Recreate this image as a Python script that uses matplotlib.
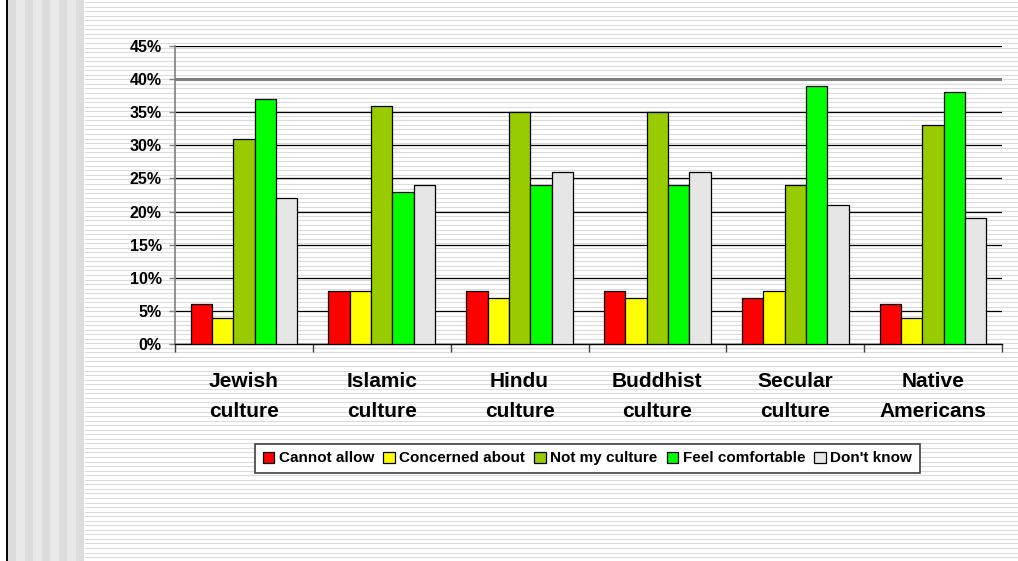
import matplotlib.pyplot as plt
import numpy as np
from matplotlib.patches import Rectangle
from matplotlib.lines import Line2D

categories = ["Jewish\nculture", "Islamic\nculture", "Hindu\nculture",
              "Buddhist\nculture", "Secular\nculture", "Native\nAmericans"]
series_names = ["Cannot allow", "Concerned about", "Not my culture",
                "Feel comfortable", "Don't know"]
series_colors = ["#ff0000", "#ffff00", "#99cc00", "#00ff00", "#e6e6e6"]

# percent values per series, one entry per category
cannot_allow = [6, 8, 8, 8, 7, 6]
concerned_about = [4, 8, 7, 7, 8, 4]
not_my_culture = [31, 36, 35, 35, 24, 33]
feel_comfortable = [37, 23, 24, 24, 39, 38]
dont_know = [22, 24, 26, 26, 21, 19]
series_values = [cannot_allow, concerned_about, not_my_culture,
                 feel_comfortable, dont_know]

W, H = 1018, 561
fig = plt.figure(figsize=(W / 100, H / 100), dpi=100)
fig.patch.set_facecolor("white")

font = ["Liberation Sans", "DejaVu Sans"]
plt.rcParams["font.family"] = font

# background: left vertical stripes + horizontal line texture
bg = fig.add_axes([0, 0, 1, 1])
bg.set_xlim(0, W)
bg.set_ylim(H, 0)
bg.axis("off")
sw = 76 / 9
for k in range(9):
    c = "#dcdcdc" if k % 2 == 0 else "#e9e9e9"
    bg.add_patch(Rectangle((8 + k * sw, 0), sw + 0.1, H, color=c, lw=0))
for y in np.arange(2, H, 4.55):
    bg.add_line(Line2D([85, W], [y, y], color="#dcdcdc", lw=0.8))
bg.add_line(Line2D([7, 7], [0, H], color="black", lw=1.4))

ax = fig.add_axes([175 / W, 1 - 344 / H, 827 / W, 298 / H])
ax.set_facecolor("none")

bw = 0.155
x = np.arange(len(categories)) + 0.5
for i, (name, vals, col) in enumerate(zip(series_names, series_values, series_colors)):
    ax.bar(x + (i - 2) * bw, np.array(vals) / 100, width=bw, color=col,
           edgecolor="black", linewidth=0.9, label=name, zorder=3)

ax.set_xlim(0, len(categories))
ax.set_ylim(0, 0.45)
yt = np.arange(0, 0.451, 0.05)
ax.set_yticks(yt)
ax.set_yticklabels([f"{int(round(v * 100))}%" for v in yt],
                   fontsize=11.5, fontweight="bold")
ax.tick_params(axis="y", length=4, width=1, color="#808080", pad=5.5)

ax.set_xticks(np.arange(0, len(categories) + 1))
ax.set_xticklabels([])
ax.tick_params(axis="x", which="major", length=5.5, width=1, color="#404040")
ax.set_xticks(x, minor=True)
ax.set_xticklabels(categories, minor=True, fontsize=15, fontweight="bold",
                   linespacing=1.74)
ax.tick_params(axis="x", which="minor", length=0, pad=20)

ax.yaxis.grid(True, color="black", lw=0.9, zorder=0)
ax.set_axisbelow(True)
ax.get_ygridlines()[8].set_color("#808080")
ax.get_ygridlines()[8].set_linewidth(2.2)

for s in ["top", "right"]:
    ax.spines[s].set_visible(False)
ax.spines["left"].set_color("#808080")
ax.spines["left"].set_linewidth(1.2)
ax.spines["bottom"].set_color("black")
ax.spines["bottom"].set_linewidth(1)

leg = ax.legend(loc="center", bbox_to_anchor=(587.5 / W, 1 - 458.5 / H),
                bbox_transform=fig.transFigure, ncol=5, frameon=True,
                fancybox=False, handlelength=0.75, handleheight=0.75,
                handletextpad=0.3, columnspacing=0.6, borderpad=0.5,
                prop={"family": font, "weight": "bold", "size": 11})
# label with a descender renders a pixel low, nudge it back up
leg.get_texts()[2].set_y(0.8)
leg.get_frame().set_edgecolor("#404040")
leg.get_frame().set_linewidth(1.2)
leg.get_frame().set_facecolor("white")
leg.get_frame().set_alpha(1)

fig.savefig("out.png", dpi=100)
